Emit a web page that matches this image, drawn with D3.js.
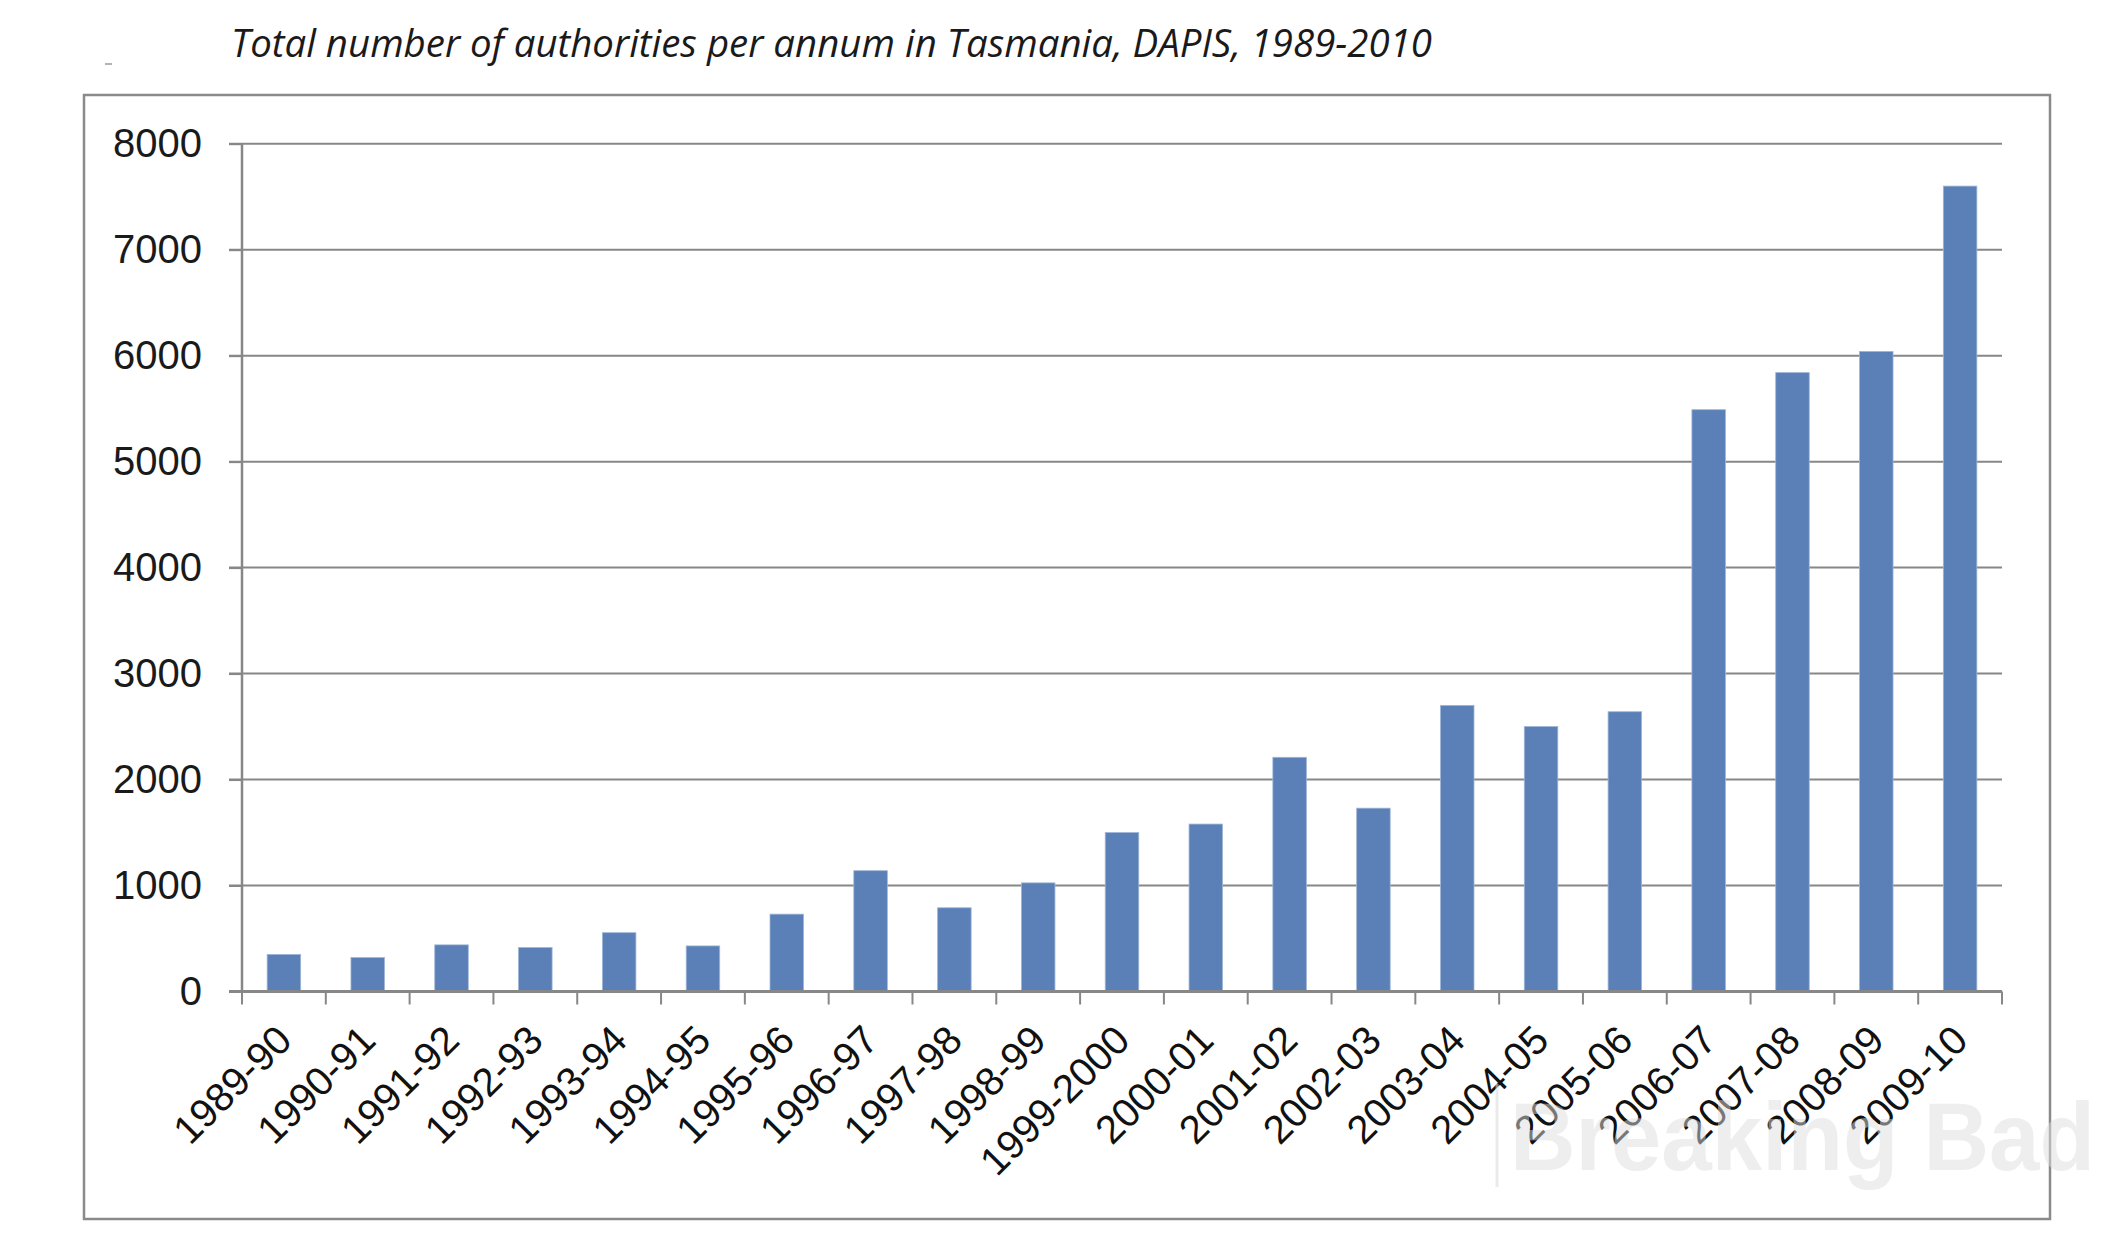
<!DOCTYPE html>
<html>
<head>
<meta charset="utf-8">
<script src="https://cdn.jsdelivr.net/npm/d3@7"></script>
<style>
  html, body { margin: 0; padding: 0; background: #ffffff; }
  svg { display: block; }
</style>
</head>
<body>
<svg id="chart" width="2128" height="1243"></svg>
<script>
// ---- data ----
const categories = ["1989-90","1990-91","1991-92","1992-93","1993-94","1994-95","1995-96","1996-97","1997-98","1998-99","1999-2000","2000-01","2001-02","2002-03","2003-04","2004-05","2005-06","2006-07","2007-08","2008-09","2009-10"];
const authorities = [350, 320, 440, 415, 555, 430, 730, 1140, 790, 1025, 1500, 1580, 2210, 1730, 2700, 2500, 2640, 5490, 5840, 6040, 7600];
const yTicks = [0, 1000, 2000, 3000, 4000, 5000, 6000, 7000, 8000];
const titleText = "Total number of authorities per annum in Tasmania, DAPIS, 1989-2010";
const watermarkText = "Breaking Bad";

// ---- layout ----
const svg = d3.select("#chart");
const plot = { left: 242, right: 2002, top: 143.7, bottom: 991.5 };

const x = d3.scaleBand().domain(categories).range([plot.left, plot.right]).paddingInner(0.6).paddingOuter(0.3);
const y = d3.scaleLinear().domain([0, 8000]).range([plot.bottom, plot.top]);

// outer frame
svg.append("rect")
  .attr("x", 84).attr("y", 95).attr("width", 2050 - 84).attr("height", 1219 - 95)
  .attr("fill", "none").attr("stroke", "#8a8a8a").attr("stroke-width", 2.5);

// small dash top-left
svg.append("line").attr("x1", 105).attr("x2", 112).attr("y1", 64).attr("y2", 64)
  .attr("stroke", "#9a9a9a").attr("stroke-width", 1.5);

// title
svg.append("text")
  .attr("x", 231).attr("y", 57)
  .attr("font-family", "'Open Sans', 'Liberation Sans', sans-serif")
  .attr("font-style", "italic")
  .attr("font-size", 38)
  .attr("fill", "#1a1a1a")
  .attr("textLength", 1201)
  .attr("lengthAdjust", "spacingAndGlyphs")
  .text(titleText);

// gridlines
svg.append("g").selectAll("line").data(yTicks.filter(d => d > 0)).join("line")
  .attr("x1", plot.left - 13).attr("x2", plot.right)
  .attr("y1", d => y(d)).attr("y2", d => y(d))
  .attr("stroke", "#878787").attr("stroke-width", 2);

// y axis
const yAxis = svg.append("g")
  .attr("transform", `translate(${plot.left},0)`)
  .call(d3.axisLeft(y).tickValues(yTicks).tickSize(13).tickPadding(27).tickFormat(d3.format("d")));
yAxis.select(".domain").attr("stroke", "#878787").attr("stroke-width", 2.5).attr("d", `M0,${plot.top}V${plot.bottom}`);
yAxis.selectAll(".tick line").attr("stroke", "#878787").attr("stroke-width", 2);
yAxis.selectAll(".tick text")
  .attr("font-family", "'Liberation Sans', Arial, sans-serif")
  .attr("font-size", 40).attr("fill", "#1a1a1a");

// bars
svg.append("g").selectAll("rect").data(authorities).join("rect")
  .attr("x", (d, i) => x(categories[i]))
  .attr("y", d => y(d))
  .attr("width", x.bandwidth())
  .attr("height", d => y(0) - y(d))
  .attr("fill", "#5a80b7")
  .attr("stroke", "#9fb6d6").attr("stroke-width", 0.8);

// x axis
const bounds = categories.map(c => x(c) - x.step() * x.paddingInner() / 2);
bounds.push(plot.right);
const xAxisG = svg.append("g");
xAxisG.append("line")
  .attr("x1", plot.left - 13).attr("x2", plot.right)
  .attr("y1", plot.bottom).attr("y2", plot.bottom)
  .attr("stroke", "#878787").attr("stroke-width", 3);
xAxisG.selectAll("line.tk").data(bounds).join("line").attr("class", "tk")
  .attr("x1", d => d).attr("x2", d => d)
  .attr("y1", plot.bottom).attr("y2", plot.bottom + 13)
  .attr("stroke", "#878787").attr("stroke-width", 2);

xAxisG.selectAll("text").data(categories).join("text")
  .attr("transform", d => `translate(${x(d) + x.bandwidth() / 2 + 10},${plot.bottom + 51}) rotate(-45)`)
  .attr("text-anchor", "end")
  .attr("font-family", "'Liberation Sans', Arial, sans-serif")
  .attr("font-size", 40)
  .attr("fill", "#111111")
  .text(d => d);

// watermark
svg.append("line").attr("x1", 1497).attr("x2", 1497).attr("y1", 1084).attr("y2", 1187)
  .attr("stroke", "#dcdcdc").attr("stroke-opacity", 0.6).attr("stroke-width", 3);
svg.append("text")
  .attr("x", 1510).attr("y", 1170)
  .attr("font-family", "'Liberation Sans', Arial, sans-serif")
  .attr("font-size", 97)
  .attr("font-weight", "bold")
  .attr("fill", "#dedede").attr("fill-opacity", 0.5)
  .attr("textLength", 585).attr("lengthAdjust", "spacingAndGlyphs")
  .text(watermarkText);
</script>
</body>
</html>
